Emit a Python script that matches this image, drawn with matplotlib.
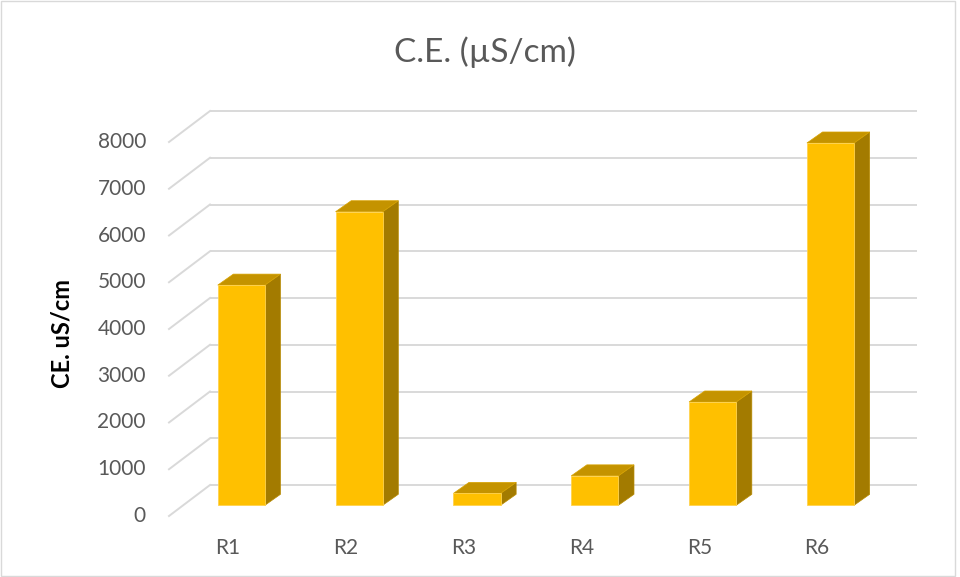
import matplotlib.pyplot as plt
from matplotlib.patches import Polygon, Rectangle

# Data
categories = ["R1", "R2", "R3", "R4", "R5", "R6"]
ce_values = [4710, 6280, 255, 630, 2210, 7750]
y_ticks = [0, 1000, 2000, 3000, 4000, 5000, 6000, 7000, 8000]

plt.rcParams['font.family'] = ['Lato', 'DejaVu Sans']

fig = plt.figure(figsize=(9.6, 5.77), dpi=100)
fig.patch.set_facecolor('white')

# back wall of the 3D plot
ax_left, ax_bottom, ax_w, ax_h = 210, 92, 707, 374
ax = fig.add_axes([ax_left / 960, ax_bottom / 577, ax_w / 960, ax_h / 577])
ax.set_xlim(0, len(categories))
ax.set_ylim(0, 8000)
ax.axis('off')

# pixel -> data conversion for the oblique depth offsets
px_x = ax_w / len(categories)
px_y = ax_h / 8000


def dx(p):
    return p / px_x


def dy(p):
    return p / px_y


# floor depth (back wall -> front edge)
wall_dx, wall_dy = dx(-41), dy(-31)
# bar front and back planes
front_dx, front_dy = dx(-27.6), dy(-20.3)
back_dx, back_dy = dx(-12), dy(-9.3)

grid_color = '#D9D9D9'
for t in y_ticks:
    ax.plot([0, len(categories)], [t, t], color=grid_color, lw=1.4,
            zorder=1, clip_on=False, solid_capstyle='butt')
    ax.plot([0, wall_dx], [t, t + wall_dy], color=grid_color, lw=1.4,
            zorder=1, clip_on=False)
    ax.text(wall_dx + dx(-23), t + wall_dy, str(t), ha='right', va='center',
            fontsize=15, color='#595959')

bar_w = 0.4
front_col = '#FFC000'
top_col = '#C49300'
side_col = '#A37B00'

for i, (cat, v) in enumerate(zip(categories, ce_values)):
    x0 = i + (1 - bar_w) / 2
    x1 = x0 + bar_w
    front = [(x0 + front_dx, front_dy), (x1 + front_dx, front_dy),
             (x1 + front_dx, v + front_dy), (x0 + front_dx, v + front_dy)]
    top = [(x0 + front_dx, v + front_dy), (x1 + front_dx, v + front_dy),
           (x1 + back_dx, v + back_dy), (x0 + back_dx, v + back_dy)]
    side = [(x1 + front_dx, front_dy), (x1 + back_dx, back_dy),
            (x1 + back_dx, v + back_dy), (x1 + front_dx, v + front_dy)]
    ax.add_patch(Polygon(side, closed=True, facecolor=side_col,
                         edgecolor='#B88A00', lw=0.5, zorder=3, clip_on=False))
    ax.add_patch(Polygon(top, closed=True, facecolor=top_col,
                         edgecolor='#D9A300', lw=0.5, zorder=3, clip_on=False))
    ax.add_patch(Polygon(front, closed=True, facecolor=front_col,
                         edgecolor='#FFD34F', lw=0.6, zorder=4, clip_on=False))

    ax.text(i + 0.5 + wall_dx, wall_dy + dy(-32), cat, ha='center',
            va='center', fontsize=15, color='#595959')

fig.text(485 / 960, 1 - 52 / 577, "C.E. (µS/cm)", ha='center', va='center',
         fontsize=24, color='#595959')
fig.text(62 / 960, 1 - 334 / 577, "CE. uS/cm", ha='center', va='center',
         rotation=90, fontsize=17, fontweight='bold', color='black')

# chart area border
fig.patches.append(Rectangle((0.5 / 960, 1 / 577), 954 / 960, 575 / 577,
                             transform=fig.transFigure, fill=False,
                             edgecolor='#D9D9D9', lw=1.0))

fig.savefig('out.png', dpi=100)
